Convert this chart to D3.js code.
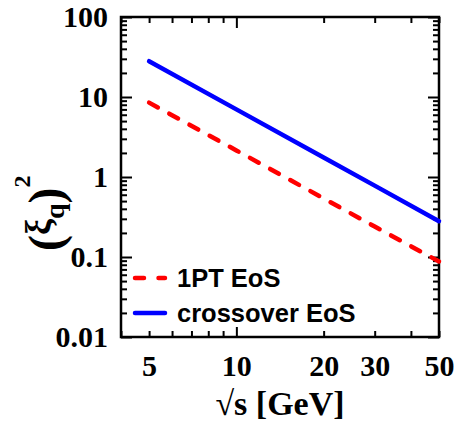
<!DOCTYPE html>
<html lang="en">
<style>
body { margin: 0; background: #fff; }
.serif { font-family: "Liberation Serif", "Times New Roman", serif; font-weight: bold; }
.sans { font-family: "Liberation Sans", Arial, sans-serif; font-weight: bold; }
</style>
<script type="text/javascript" src="https://d3js.org/d3.v7.min.js"></script>
<body>
<script type="text/javascript">

// data
var sqrtS = [5, 10, 20, 30, 50];
var xiFirstOrder = [8.5, 2.15, 0.54, 0.24, 0.088];   // 1PT EoS
var xiCrossover = [28, 7.0, 1.75, 0.78, 0.28];      // crossover EoS
var xTickLabels = [5, 10, 20, 30, 50];
var yTickLabels = ["0.01", "0.1", "1", "10", "100"];
var legendNames = ["1PT EoS", "crossover EoS"];

var width = 456, height = 424;

var svg = d3.select("body").append("svg")
    .attr("width", width)
    .attr("height", height);

// scales
var x = d3.scaleLog().domain([4, 50]).range([121, 439]);
var y = d3.scaleLog().domain([0.01, 100]).range([337, 17]);

// minor ticks
var xMinor = [4, 5, 6, 7, 8, 9, 20, 30, 40, 50];
var yMinor = [];
[0.01, 0.1, 1, 10].forEach(function(d) {
  for (var k = 2; k <= 9; k++) yMinor.push(d * k);
});
var yMajor = [0.01, 0.1, 1, 10, 100];

function clean(g) {
  g.select(".domain").remove();
  g.selectAll("line").attr("stroke", "#000").attr("stroke-width", 2);
}

// bottom axis
svg.append("g").attr("transform", "translate(0,337)")
    .call(d3.axisBottom(x).tickValues(xMinor).tickSize(-6).tickFormat(""))
    .call(clean);
svg.append("g").attr("transform", "translate(0,337)")
    .call(d3.axisBottom(x).tickValues([10]).tickSize(-10).tickFormat(""))
    .call(clean);
svg.append("g").attr("class", "serif").attr("transform", "translate(0,337)")
    .call(d3.axisBottom(x).tickValues(xTickLabels).tickSize(0).tickPadding(18)
      .tickFormat(d3.format("d")))
    .call(clean)
    .selectAll("text").attr("font-size", 30).attr("fill", "#000")
      .attr("font-family", null);

// top axis
svg.append("g").attr("transform", "translate(0,17)")
    .call(d3.axisTop(x).tickValues(xMinor).tickSize(-6).tickFormat(""))
    .call(clean);
svg.append("g").attr("transform", "translate(0,17)")
    .call(d3.axisTop(x).tickValues([10]).tickSize(-11).tickFormat(""))
    .call(clean);

// left axis
svg.append("g").attr("transform", "translate(121,0)")
    .call(d3.axisLeft(y).tickValues(yMinor).tickSize(-6).tickFormat(""))
    .call(clean);
svg.append("g").attr("class", "serif").attr("transform", "translate(121,0)")
    .call(d3.axisLeft(y).tickValues(yMajor).tickSize(-11).tickPadding(13)
      .tickFormat(function(d, i) { return yTickLabels[i]; }))
    .call(clean)
    .selectAll("text").attr("font-size", 30).attr("fill", "#000")
      .attr("font-family", null);

// right axis
svg.append("g").attr("transform", "translate(439,0)")
    .call(d3.axisRight(y).tickValues(yMinor).tickSize(-6).tickFormat(""))
    .call(clean);
svg.append("g").attr("transform", "translate(439,0)")
    .call(d3.axisRight(y).tickValues(yMajor).tickSize(-11).tickFormat(""))
    .call(clean);

// frame
svg.append("rect")
    .attr("x", 121).attr("y", 17)
    .attr("width", 318).attr("height", 320)
    .attr("fill", "none").attr("stroke", "#000").attr("stroke-width", 2.5);

// curves
var line = d3.line()
    .x(function(d) { return x(d[0]); })
    .y(function(d) { return y(d[1]); });

svg.append("path")
    .datum(d3.zip(sqrtS, xiCrossover))
    .attr("d", line)
    .attr("fill", "none").attr("stroke", "#0000ff")
    .attr("stroke-width", 4.5).attr("stroke-linecap", "round");

svg.append("path")
    .datum(d3.zip(sqrtS, xiFirstOrder))
    .attr("d", line)
    .attr("fill", "none").attr("stroke", "#ff0000")
    .attr("stroke-width", 4.5).attr("stroke-linecap", "round")
    .attr("stroke-dasharray", "10,13");

// legend
var legend = svg.append("g");
var legendY = [278, 313];
var legendColor = ["#ff0000", "#0000ff"];
var legendDash = ["9,14.5", null];

legendNames.forEach(function(name, i) {
  legend.append("line")
      .attr("x1", 135).attr("x2", 165)
      .attr("y1", legendY[i]).attr("y2", legendY[i])
      .attr("stroke", legendColor[i]).attr("stroke-width", 4.5)
      .attr("stroke-linecap", "round")
      .attr("stroke-dasharray", legendDash[i]);
  legend.append("text")
      .attr("class", "sans")
      .attr("x", 177).attr("y", legendY[i] + 9)
      .attr("font-size", 25.5)
      .text(name);
});

// axis titles
svg.append("text")
    .attr("class", "serif")
    .attr("x", 280).attr("y", 415)
    .attr("text-anchor", "middle")
    .attr("font-size", 34)
    .text("\u221As [GeV]");

var yTitle = svg.append("text")
    .attr("class", "serif")
    .attr("transform", "translate(62,251) rotate(-90)");
yTitle.append("tspan").attr("font-size", 48).text("(");
yTitle.append("tspan").attr("font-size", 36).attr("dy", -12).text("\u03BE");
yTitle.append("tspan").attr("font-size", 28).attr("dy", 14).text("q");
yTitle.append("tspan").attr("font-size", 48).attr("dy", -2).text(")");
yTitle.append("tspan").attr("font-size", 24).attr("dy", -32).text("2");

</script>
</body>
</html>
